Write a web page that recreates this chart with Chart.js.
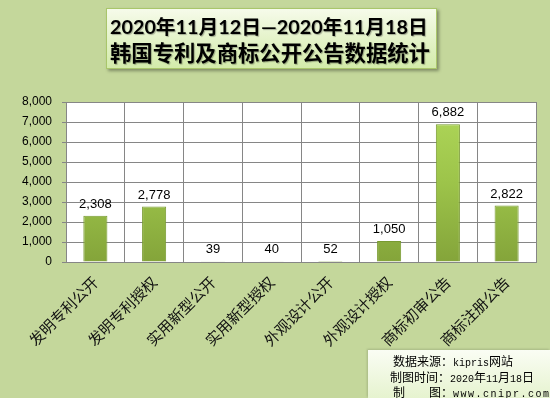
<!DOCTYPE html>
<html>
<head>
<meta charset="utf-8">
<script src="https://cdn.jsdelivr.net/npm/chart.js@4/dist/chart.umd.min.js"></script>
<style>
	html, body { margin: 0; padding: 0; }
	body { width: 550px; height: 398px; background: #c4d79b; position: relative; overflow: hidden; }
	#wrap { position: absolute; left: 0; top: 0; width: 550px; height: 398px; }
	.title {
		position: absolute; left: 106px; top: 8px; width: 329px; height: 59px;
		background: linear-gradient(to bottom, #f6fbea, #d3ebaa);
		border: 1px solid #a9c66a;
		box-shadow: 2px 2px 3px rgba(0, 0, 0, 0.35);
		font-family: Lato, "Noto Sans CJK SC", sans-serif; font-weight: bold; color: #000;
		text-shadow: 1px 1px 1px rgba(0, 0, 0, 0.3);
	}
	.title span { position: absolute; white-space: nowrap; line-height: 26px; font-size: 21px; }
	.title .l1 { left: 3px; top: 4px; }
	.title .l2 { left: 3px; top: 31px; }
	.foot {
		position: absolute; left: 368px; top: 350px; width: 182px; height: 48px;
		background: linear-gradient(to bottom, #fafdf4, #e6f3cf);
		box-shadow: -1px -1px 2px rgba(0, 0, 0, 0.15);
		font-family: "Noto Sans CJK SC", sans-serif; font-size: 12px; color: #000;
	}
	.foot div { position: absolute; white-space: nowrap; line-height: 15px; }
	.foot .m { font-family: "Liberation Mono", monospace; font-size: 10px; }
</style>
</head>
<body>
<div id="wrap"><canvas id="chart" width="550" height="398"></canvas></div>
<div class="title">
	<span class="l1" data-w="318">2020年11月12日—2020年11月18日</span>
	<span class="l2" data-w="320">韩国专利及商标公开公告数据统计</span>
</div>
<div class="foot">
	<div style="left:25px; top:3px">数据来源：<span class="m">kipris</span>网站</div>
	<div style="left:22px; top:19px">制图时间：<span class="m">2020</span>年<span class="m">11</span>月<span class="m">18</span>日</div>
	<div style="left:25px; top:34px">制　　图：<span class="m" style="letter-spacing:1.5px">www.cnipr.com</span></div>
</div>
<script>
const categories = ["发明专利公开", "发明专利授权", "实用新型公开", "实用新型授权", "外观设计公开", "外观设计授权", "商标初审公告", "商标注册公告"]
const counts = [2308, 2778, 39, 40, 52, 1050, 6882, 2822]
const yMax = 8000
const yStep = 1000

// squeeze the title lines to the widths seen in the picture
document.querySelectorAll(".title span").forEach((el) => {
	const target = Number(el.dataset.w)
	const w = el.getBoundingClientRect().width
	if (w > 0) el.style.fontSize = (21 * target / w).toFixed(2) + "px"
})

function barFill(context) {
	const chart = context.chart
	const area = chart.chartArea
	if (!area) return "#98bd45"
	const g = chart.ctx.createLinearGradient(0, area.top, 0, area.bottom)
	g.addColorStop(0, "#b0d85a")
	g.addColorStop(0.5, "#9dc44a")
	g.addColorStop(1, "#84a43a")
	return g
}

const valueLabels = {
	id: "valueLabels",
	afterDatasetsDraw(chart) {
		const ctx = chart.ctx
		const meta = chart.getDatasetMeta(0)
		ctx.save()
		ctx.font = "13px 'Liberation Sans', sans-serif"
		ctx.fillStyle = "#000"
		ctx.textAlign = "center"
		ctx.textBaseline = "bottom"
		meta.data.forEach((bar, i) => {
			ctx.fillText(counts[i].toLocaleString("en-US"), bar.x, bar.y - 5)
		})
		ctx.restore()
	},
}

const plotBg = {
	id: "plotBg",
	beforeDraw(chart) {
		const a = chart.chartArea
		chart.ctx.save()
		chart.ctx.fillStyle = "#fff"
		chart.ctx.fillRect(a.left, a.top, a.right - a.left, a.bottom - a.top)
		chart.ctx.restore()
	},
}

new Chart(document.getElementById("chart"), {
	type: "bar",
	data: {
		labels: categories,
		datasets: [{
			data: counts,
			backgroundColor: barFill,
			borderColor: "#789a30",
			borderWidth: 1,
			barPercentage: 0.41,
			categoryPercentage: 1,
		}],
	},
	options: {
		responsive: false,
		animation: false,
		layout: { padding: { top: 102, left: 0, right: 14, bottom: 0 } },
		plugins: { legend: { display: false }, tooltip: { enabled: false } },
		scales: {
			x: {
				grid: { color: "#868686", lineWidth: 1, offset: true, drawTicks: false },
				border: { color: "#868686" },
				ticks: {
					color: "#111",
					font: { family: "'Noto Sans CJK SC', sans-serif", size: 15 },
					minRotation: 45,
					maxRotation: 45,
					padding: 11,
				},
				afterFit(scale) { scale.height = 136 },
			},
			y: {
				min: 0,
				max: yMax,
				grid: { color: "#868686", lineWidth: 1, tickLength: 4 },
				border: { color: "#868686" },
				ticks: {
					stepSize: yStep,
					color: "#000",
					padding: 10,
					font: { family: "'Liberation Sans', sans-serif", size: 12 },
					callback: (v) => v.toLocaleString("en-US"),
				},
				afterFit(scale) { scale.width = 66 },
			},
		},
	},
	plugins: [plotBg, valueLabels],
})
</script>
</body>
</html>
